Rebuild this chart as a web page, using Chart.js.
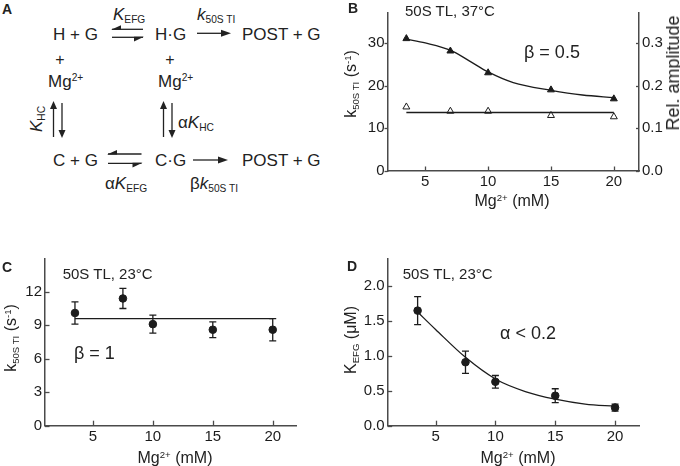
<!DOCTYPE html>
<html><head><meta charset="utf-8">
<script src="https://cdn.jsdelivr.net/npm/chart.js@4.4.1/dist/chart.umd.min.js"></script>
<style>
html,body{margin:0;padding:0;background:#fff;}
#root{position:relative;width:680px;height:466px;overflow:hidden;font-family:"Liberation Sans",Arial,sans-serif;color:#222;}
canvas{position:absolute;}
.t{position:absolute;white-space:nowrap;line-height:1;transform:translateY(-50%);z-index:2;}
.c{position:absolute;white-space:nowrap;line-height:1;transform:translate(-50%,-50%);z-index:2;}
.r{position:absolute;white-space:nowrap;line-height:1;transform:translate(-50%,-50%) rotate(-90deg);z-index:2;}
.sub{font-size:0.6em;position:relative;top:0.3em;}
.sup{font-size:0.6em;position:relative;top:-0.55em;}
.b{font-weight:bold;}
i{font-style:italic;}
</style></head>
<body><div id="root">
<svg id="arrows" width="340" height="230" style="position:absolute;left:0;top:0;z-index:1" stroke="#222" stroke-width="1.3" fill="#222">
  <line x1="112" y1="29.3" x2="143" y2="29.3"/><polygon stroke="none" points="111,29.8 121,25.2 121,29.8"/>
  <line x1="112" y1="37.3" x2="143" y2="37.3"/><polygon stroke="none" points="144,36.8 134,41.4 134,36.8"/>
  <line x1="197" y1="33.3" x2="223" y2="33.3"/><polygon stroke="none" points="231,33.3 221,29.8 221,36.8"/>
  <line x1="53.5" y1="137" x2="53.5" y2="108"/><polygon stroke="none" points="53.5,101 50,109 57,109"/>
  <line x1="62" y1="103" x2="62" y2="131"/><polygon stroke="none" points="62,138 58.5,130 65.5,130"/>
  <line x1="163.5" y1="137" x2="163.5" y2="108"/><polygon stroke="none" points="163.5,101 160,109 167,109"/>
  <line x1="172" y1="103" x2="172" y2="131"/><polygon stroke="none" points="172,138 168.5,130 175.5,130"/>
  <line x1="108" y1="154" x2="141.5" y2="154"/><polygon stroke="none" points="107,154.5 117,149.9 117,154.5"/>
  <line x1="108" y1="163.3" x2="141.5" y2="163.3"/><polygon stroke="none" points="142.5,162.8 132.5,167.4 132.5,162.8"/>
  <line x1="193" y1="160" x2="220" y2="160"/><polygon stroke="none" points="228,160 218,156.5 218,163.5"/>
</svg>
<!-- Panel A text -->
<div class="t b" style="left:2px;top:9px;font-size:14px">A</div>
<div class="t" style="left:113px;top:14px;font-size:17px"><i>K</i><span class="sub">EFG</span></div>
<div class="t" style="left:197px;top:14px;font-size:17px"><i>k</i><span class="sub">50S TI</span></div>
<div class="t" style="left:53px;top:33.5px;font-size:17px">H + G</div>
<div class="t" style="left:155px;top:33.5px;font-size:17px">H·G</div>
<div class="t" style="left:242px;top:33.5px;font-size:17px">POST + G</div>
<div class="c" style="left:60px;top:60px;font-size:16px">+</div>
<div class="c" style="left:170px;top:60px;font-size:16px">+</div>
<div class="t" style="left:48px;top:81px;font-size:17px">Mg<span class="sup">2+</span></div>
<div class="t" style="left:158px;top:81px;font-size:17px">Mg<span class="sup">2+</span></div>
<div class="r" style="left:36px;top:119px;font-size:17px"><i>K</i><span class="sub">HC</span></div>
<div class="t" style="left:178px;top:122px;font-size:17px">α<i>K</i><span class="sub">HC</span></div>
<div class="t" style="left:53px;top:160px;font-size:17px">C + G</div>
<div class="t" style="left:155px;top:160px;font-size:17px">C·G</div>
<div class="t" style="left:242px;top:160px;font-size:17px">POST + G</div>
<div class="t" style="left:105px;top:183px;font-size:17px">α<i>K</i><span class="sub">EFG</span></div>
<div class="t" style="left:190px;top:183px;font-size:17px">β<i>k</i><span class="sub">50S TI</span></div>
<!-- Panel B text -->
<div class="t b" style="left:348px;top:8px;font-size:14px">B</div>
<div class="t" style="left:405px;top:10px;font-size:15px">50S TL, 37°C</div>
<div class="t" style="left:524px;top:52px;font-size:18px">β = 0.5</div>
<div class="c" style="left:512px;top:201px;font-size:16px">Mg<span class="sup">2+</span> (mM)</div>
<div class="r" style="left:350.5px;top:84px;font-size:16px">k<span class="sub">50S TI</span> (s<span class="sup">-1</span>)</div>
<div class="r" style="left:673px;top:73px;font-size:18px">Rel. amplitude</div>
<!-- Panel C text -->
<div class="t b" style="left:2px;top:266.5px;font-size:14px">C</div>
<div class="t" style="left:62.7px;top:272.7px;font-size:15px">50S TL, 23°C</div>
<div class="t" style="left:74px;top:352.7px;font-size:18px">β = 1</div>
<div class="c" style="left:175px;top:458px;font-size:16px">Mg<span class="sup">2+</span> (mM)</div>
<div class="r" style="left:10.5px;top:338px;font-size:16px">k<span class="sub">50S TI</span> (s<span class="sup">-1</span>)</div>
<!-- Panel D text -->
<div class="t b" style="left:347px;top:266px;font-size:14px">D</div>
<div class="t" style="left:402.7px;top:272.7px;font-size:15px">50S TL, 23°C</div>
<div class="t" style="left:500px;top:332.7px;font-size:18px">α &lt; 0.2</div>
<div class="c" style="left:518px;top:458px;font-size:16px">Mg<span class="sup">2+</span> (mM)</div>
<div class="r" style="left:351px;top:340px;font-size:16px">K<span class="sub">EFG</span> (μM)</div>

<canvas id="cB" width="340" height="230" style="left:340px;top:0px"></canvas>
<canvas id="cC" width="340" height="236" style="left:0px;top:230px"></canvas>
<canvas id="cD" width="340" height="236" style="left:340px;top:230px"></canvas>
</div>
<script>
// ---------- data ----------
// Panel B (50S TL, 37°C)
const mgB = [3.5, 7, 10, 15, 20];
const kB = [31.0, 28.1, 23.0, 19.0, 16.9];
const ampB = [0.150, 0.140, 0.140, 0.130, 0.127];
const fitBx = [3.5, 5, 7, 8.5, 10, 12, 15, 17.5, 20];
const fitBy = [30.9, 30.0, 28.3, 25.8, 23.2, 20.7, 18.9, 17.8, 17.2];
const ampFitX = [3.5, 20];
const ampFitY = [0.137, 0.137];
const ticksBy = [0, 10, 20, 30];
const ticksBy2 = [0, 0.1, 0.2, 0.3];
// Panel C (50S TL, 23°C)
const mgC = [3.5, 7.5, 10, 15, 20];
const kC = [10.1, 11.4, 9.1, 8.6, 8.6];
const errC = [1.0, 0.9, 0.8, 0.7, 1.0];
const fitCx = [3.5, 20];
const fitCy = [9.6, 9.6];
const ticksCy = [0, 3, 6, 9, 12];
// Panel D (50S TL, 23°C)
const mgD = [3.5, 7.5, 10, 15, 20];
const kD = [1.65, 0.91, 0.63, 0.43, 0.26];
const errD = [0.20, 0.16, 0.09, 0.10, 0.05];
const fitDx = [3.5, 5, 7.5, 10, 12.5, 15, 17.5, 20];
const fitDy = [1.63, 1.38, 0.98, 0.67, 0.49, 0.38, 0.31, 0.28];
const ticksDy = [0, 0.5, 1.0, 1.5, 2.0];
const ticksX = [5, 10, 15, 20];

// ---------- helpers ----------
const AXIS = '#4a4a4a', INK = '#1c1c1c';
const FONT = {family: '"Liberation Sans", Arial, sans-serif', size: 15};
const pts = (xs, ys) => xs.map((x, i) => ({x, y: ys[i]}));
const setTicks = vals => s => { s.ticks = vals.map(v => ({value: v})); };
const fixW = w => s => { s.width = w; };
const fixH = h => s => { s.height = h; };

const tickMarks = {
  id: 'tickMarks',
  afterDraw(chart, args, opts) {
    const ctx = chart.ctx;
    ctx.save();
    ctx.strokeStyle = AXIS; ctx.lineWidth = 1.3;
    for (const id in opts.len || {}) {
      const s = chart.scales[id]; const len = opts.len[id];
      for (const t of s.ticks) {
        const p = Math.round(s.getPixelForValue(t.value)) + 0.5;
        ctx.beginPath();
        if (s.isHorizontal()) { ctx.moveTo(p, s.top); ctx.lineTo(p, s.top - len); }
        else if (s.position === 'left') { ctx.moveTo(s.right, p); ctx.lineTo(s.right + len, p); }
        else { ctx.moveTo(s.left, p); ctx.lineTo(s.left - len, p); }
        ctx.stroke();
      }
    }
    ctx.restore();
  }
};
const errorBars = {
  id: 'errorBars',
  beforeDatasetsDraw(chart) {
    const ctx = chart.ctx;
    chart.data.datasets.forEach((ds, i) => {
      if (!ds.errors) return;
      const meta = chart.getDatasetMeta(i);
      const ys = chart.scales[meta.yAxisID];
      ctx.save(); ctx.strokeStyle = INK; ctx.lineWidth = 1.3;
      meta.data.forEach((el, j) => {
        const v = ds.data[j].y, e = ds.errors[j];
        const top = ys.getPixelForValue(v + e), bot = ys.getPixelForValue(v - e);
        const x = el.x;
        ctx.beginPath();
        ctx.moveTo(x, top); ctx.lineTo(x, bot);
        ctx.moveTo(x - 3.5, top); ctx.lineTo(x + 3.5, top);
        ctx.moveTo(x - 3.5, bot); ctx.lineTo(x + 3.5, bot);
        ctx.stroke();
      });
      ctx.restore();
    });
  }
};

function xScale(min, max, h) {
  return {type: 'linear', position: 'bottom', min, max,
    afterBuildTicks: setTicks(ticksX), afterFit: fixH(h),
    grid: {display: false, drawTicks: false},
    border: {display: true, color: AXIS, width: 1.5},
    ticks: {font: FONT, color: INK, padding: 2, maxRotation: 0}};
}
function yScale(pos, min, max, ticks, w, fmt) {
  return {type: 'linear', position: pos, min, max,
    afterBuildTicks: setTicks(ticks), afterFit: fixW(w),
    grid: {display: false, drawTicks: false},
    border: {display: true, color: AXIS, width: 1.5},
    ticks: {font: FONT, color: INK, padding: 3, callback: fmt}};
}
const common = (padding, tickLen) => ({
  responsive: false, animation: false, devicePixelRatio: 1,
  layout: {padding},
  plugins: {legend: {display: false}, tooltip: {enabled: false}, tickMarks: {len: tickLen}},
});
const lineDs = (xs, ys, yAxisID) => ({data: pts(xs, ys), yAxisID, showLine: true, pointRadius: 0,
  borderColor: INK, borderWidth: 1.3, cubicInterpolationMode: 'monotone', fill: false});

// ---------- Panel B ----------
new Chart(document.getElementById('cB'), {
  type: 'scatter',
  data: {datasets: [
    lineDs(fitBx, fitBy, 'y'),
    lineDs(ampFitX, ampFitY, 'y2'),
    {data: pts(mgB, kB), yAxisID: 'y', pointStyle: 'triangle', pointRadius: 4,
      backgroundColor: INK, borderColor: INK, borderWidth: 1},
    {data: pts(mgB, ampB), yAxisID: 'y2', pointStyle: 'triangle', pointRadius: 4,
      backgroundColor: '#fff', borderColor: INK, borderWidth: 1},
  ]},
  options: Object.assign(common({left: 0, right: 0, top: 13, bottom: 0}, {x: 4.5, y: -3, y2: 3}), {
    scales: {
      x: xScale(2, 22, 59),
      y: yScale('left', 0, 37, ticksBy, 47.5, v => String(v)),
      y2: yScale('right', 0, 0.37, ticksBy2, 41, v => v.toFixed(1)),
    }
  }),
  plugins: [tickMarks, errorBars]
});

// ---------- Panel C ----------
new Chart(document.getElementById('cC'), {
  type: 'scatter',
  data: {datasets: [
    lineDs(fitCx, fitCy, 'y'),
    {data: pts(mgC, kC), errors: errC, yAxisID: 'y', pointStyle: 'circle', pointRadius: 3.8,
      backgroundColor: INK, borderColor: INK, borderWidth: 1},
  ]},
  options: Object.assign(common({left: 0, right: 43.3, top: 28.3, bottom: 0}, {x: 5, y: 4.5}), {
    scales: {
      x: xScale(1, 22, 40.3),
      y: yScale('left', 0, 15, ticksCy, 45, v => String(v)),
    }
  }),
  plugins: [tickMarks, errorBars]
});

// ---------- Panel D ----------
new Chart(document.getElementById('cD'), {
  type: 'scatter',
  data: {datasets: [
    lineDs(fitDx, fitDy, 'y'),
    {data: pts(mgD, kD), errors: errD, yAxisID: 'y', pointStyle: 'circle', pointRadius: 3.8,
      backgroundColor: INK, borderColor: INK, borderWidth: 1},
  ]},
  options: Object.assign(common({left: 0, right: 41, top: 28.3, bottom: 0}, {x: 5, y: 4.5}), {
    scales: {
      x: xScale(1, 22, 40.3),
      y: yScale('left', 0, 2.4, ticksDy, 47.7, v => v.toFixed(1)),
    }
  }),
  plugins: [tickMarks, errorBars]
});
</script>
</body></html>
